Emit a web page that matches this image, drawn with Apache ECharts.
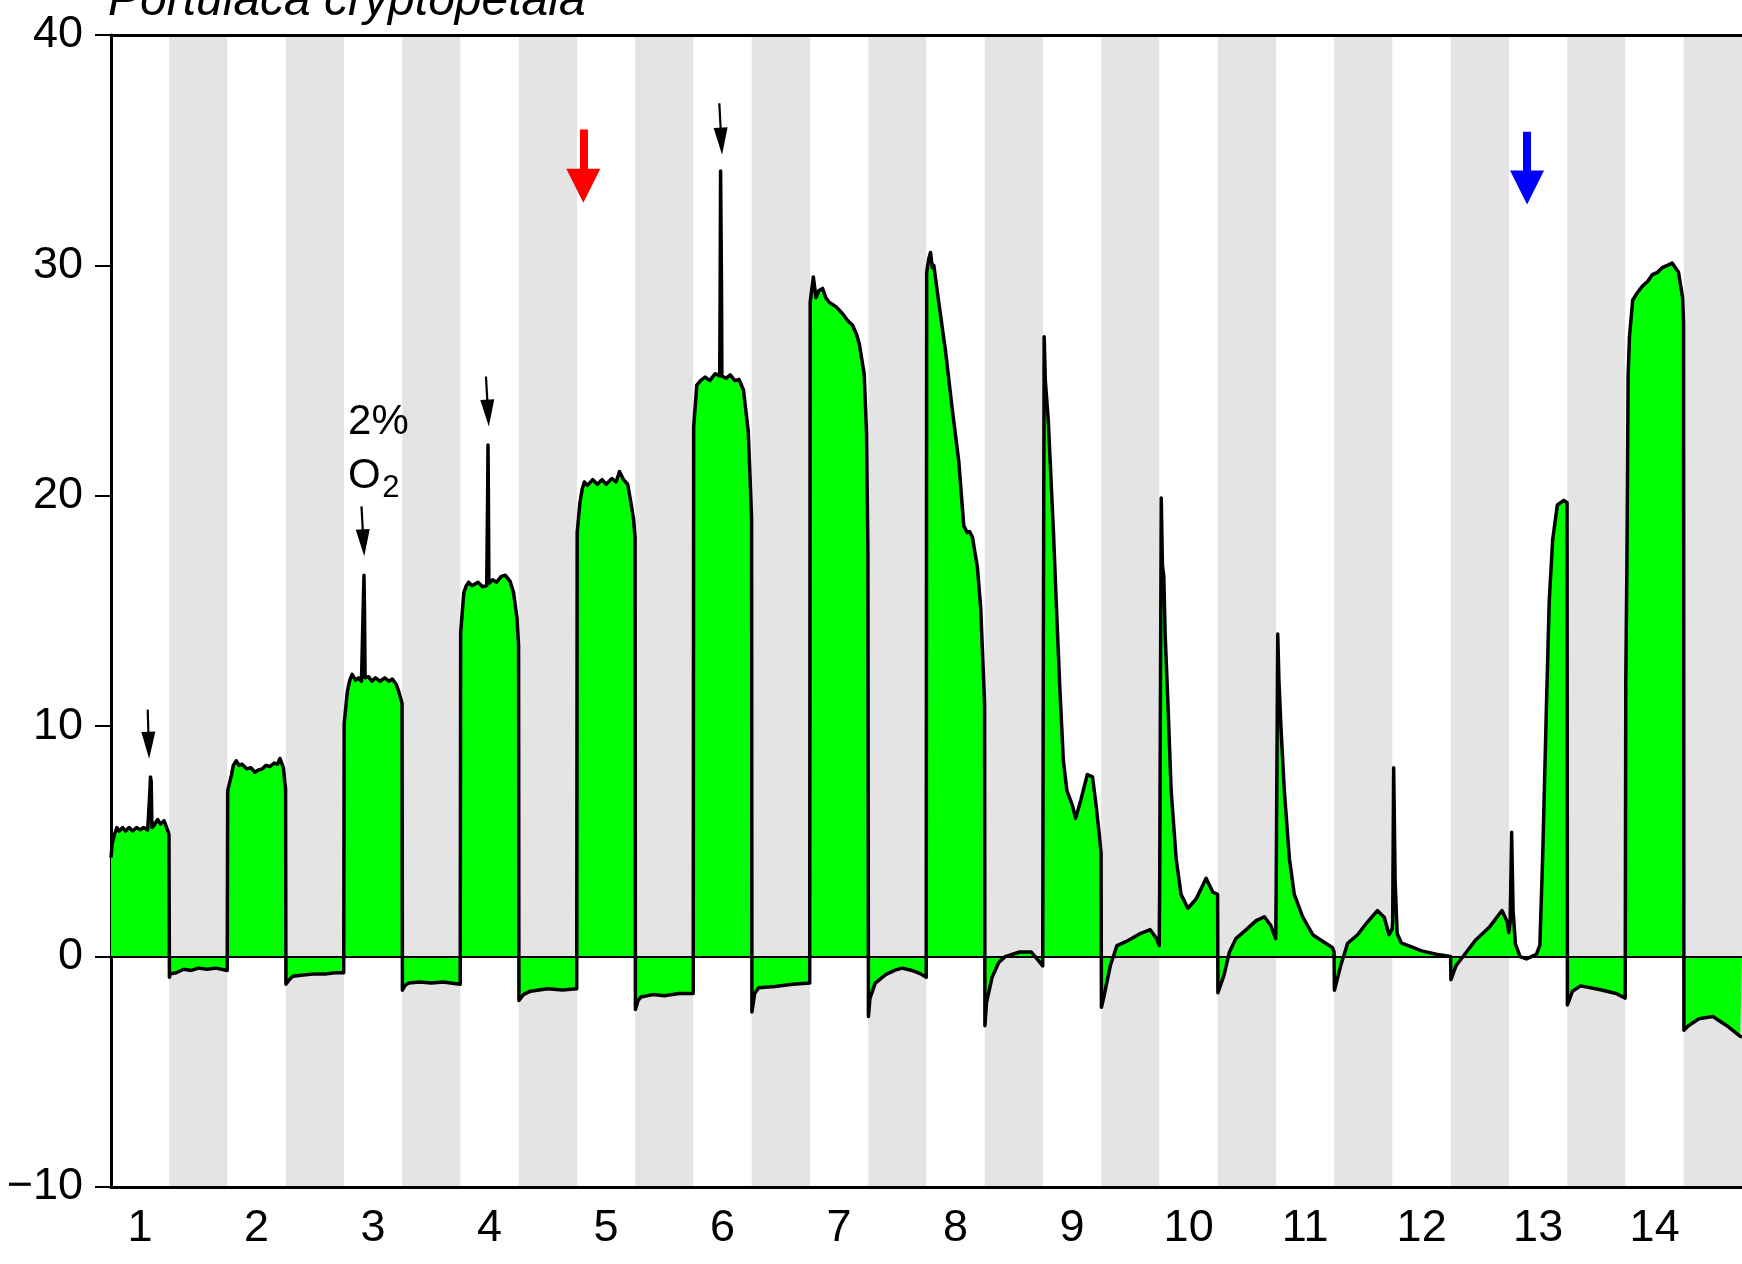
<!DOCTYPE html>
<html>
<head>
<meta charset="utf-8">
<script src="https://cdn.jsdelivr.net/npm/echarts/dist/echarts.min.js"></script>
<style>
html,body{margin:0;padding:0;background:#ffffff;}
#chart{width:1742px;height:1264px;}
</style>
</head>
<body>
<div id="chart"></div>
<script>
// ---------------- data ----------------
const titleText = 'Portulaca cryptopetala';
const cycleLabels = ['1','2','3','4','5','6','7','8','9','10','11','12','13','14'];
const yTicks = { min: -10, max: 40, step: 10 };

// each cycle: [local time, value]; 0..1 = light period, 1..2 = dark period
const cycle01 = [[0,4.3],[0.02,4.9],[0.06,5.3],[0.1,5.6],[0.14,5.45],[0.2,5.6],[0.25,5.45],[0.31,5.6],[0.37,5.45],[0.44,5.6],[0.5,5.5],[0.56,5.6],[0.63,5.5],[0.655,5.5],[0.668,7.2],[0.678,7.8],[0.69,7.6],[0.703,5.6],[0.74,5.7],[0.8,5.95],[0.85,5.75],[0.91,5.9],[0.97,5.5],[0.995,5.3],[1.003,-0.9],[1.02,-0.75],[1.12,-0.7],[1.25,-0.55],[1.38,-0.6],[1.5,-0.5],[1.65,-0.55],[1.8,-0.5],[1.995,-0.6]];
const cycle02 = [[0.003,7.2],[0.07,7.9],[0.1,8.3],[0.15,8.5],[0.2,8.3],[0.25,8.35],[0.33,8.15],[0.4,8.2],[0.47,8.0],[0.53,8.1],[0.6,8.15],[0.66,8.3],[0.73,8.25],[0.8,8.4],[0.86,8.35],[0.9,8.6],[0.96,8.2],[0.985,7.55],[0.997,7.3],[1.003,-1.2],[1.06,-1.0],[1.12,-0.85],[1.3,-0.8],[1.5,-0.75],[1.7,-0.75],[1.85,-0.7],[1.995,-0.7]];
const cycle03 = [[0.003,10.1],[0.057,11.5],[0.1,12.0],[0.14,12.25],[0.2,12.0],[0.25,12.1],[0.3,11.95],[0.325,12.0],[0.333,15.5],[0.343,16.55],[0.352,15.0],[0.362,12.1],[0.42,12.15],[0.48,11.95],[0.54,12.1],[0.62,11.95],[0.7,12.1],[0.77,11.95],[0.83,12.05],[0.9,11.8],[0.94,11.5],[0.997,11.0],[1.003,-1.46],[1.05,-1.25],[1.11,-1.15],[1.3,-1.1],[1.5,-1.15],[1.7,-1.1],[1.995,-1.2]];
const cycle04 = [[0.003,14.06],[0.057,15.8],[0.1,16.1],[0.14,16.25],[0.2,16.1],[0.3,16.25],[0.38,16.05],[0.45,16.1],[0.46,16.1],[0.466,20.0],[0.472,22.2],[0.479,20.0],[0.487,16.2],[0.55,16.35],[0.62,16.25],[0.7,16.5],[0.77,16.55],[0.85,16.3],[0.91,15.8],[0.97,14.7],[0.997,13.5],[1.003,-1.9],[1.08,-1.65],[1.2,-1.5],[1.35,-1.45],[1.5,-1.4],[1.75,-1.45],[1.995,-1.4]];
const cycle05 = [[0.003,18.4],[0.05,19.7],[0.09,20.3],[0.126,20.6],[0.18,20.45],[0.27,20.7],[0.35,20.5],[0.43,20.7],[0.5,20.5],[0.6,20.75],[0.67,20.6],[0.73,21.05],[0.8,20.7],[0.87,20.5],[0.926,19.7],[0.97,19.0],[0.997,18.2],[1.003,-2.3],[1.05,-1.9],[1.1,-1.75],[1.3,-1.65],[1.5,-1.7],[1.75,-1.6],[1.995,-1.6]];
const cycle06 = [[0.003,23.0],[0.057,24.8],[0.12,25.0],[0.2,25.15],[0.28,25.0],[0.37,25.3],[0.45,25.2],[0.458,29.0],[0.465,34.1],[0.474,34.1],[0.481,29.0],[0.487,25.2],[0.56,25.1],[0.63,25.25],[0.71,25.0],[0.78,25.05],[0.857,24.6],[0.94,22.8],[0.98,20.2],[0.997,19.0],[1.003,-2.4],[1.05,-1.6],[1.12,-1.35],[1.4,-1.3],[1.7,-1.2],[1.995,-1.15]];
const cycle07 = [[0.003,28.4],[0.057,29.5],[0.103,28.6],[0.15,28.9],[0.217,29.0],[0.27,28.6],[0.33,28.4],[0.45,28.2],[0.56,27.9],[0.65,27.6],[0.73,27.4],[0.8,27.0],[0.846,26.6],[0.93,25.3],[0.97,22.8],[0.994,17.7],[1.003,-2.6],[1.03,-1.8],[1.12,-1.15],[1.3,-0.78],[1.45,-0.6],[1.58,-0.5],[1.75,-0.6],[1.9,-0.75],[1.995,-0.9]];
const cycle08 = [[0.003,29.7],[0.04,30.3],[0.069,30.56],[0.1,29.9],[0.126,30.0],[0.21,28.4],[0.326,26.3],[0.44,23.8],[0.554,21.5],[0.64,18.7],[0.7,18.4],[0.74,18.45],[0.789,18.2],[0.874,16.9],[0.931,15.1],[0.971,12.6],[0.997,11.0],[1.003,-3.0],[1.03,-2.0],[1.126,-0.9],[1.24,-0.26],[1.35,0.0],[1.6,0.2],[1.8,0.2],[1.995,-0.4]];
const cycle09 = [[0.003,10.0],[0.02,26.9],[0.04,25.0],[0.09,23.3],[0.18,18.4],[0.235,14.9],[0.29,11.6],[0.35,8.5],[0.41,7.2],[0.5,6.6],[0.56,6.0],[0.65,6.8],[0.76,7.9],[0.85,7.8],[0.91,6.6],[0.97,5.2],[0.997,4.5],[1.003,-2.2],[1.04,-1.8],[1.155,-0.4],[1.27,0.48],[1.44,0.67],[1.67,1.0],[1.84,1.17],[1.95,0.78],[1.995,0.48]];
const cycle10 = [[0.003,3.0],[0.03,19.9],[0.05,17.0],[0.074,16.5],[0.097,14.0],[0.143,11.1],[0.2,7.2],[0.286,4.25],[0.37,2.7],[0.486,2.1],[0.63,2.5],[0.8,3.4],[0.914,2.8],[0.997,2.7],[1.003,-1.57],[1.11,-0.78],[1.2,0.19],[1.31,0.78],[1.49,1.17],[1.66,1.56],[1.8,1.73],[1.91,1.35],[1.995,0.78]];
const cycle11 = [[0.003,3.0],[0.03,14.0],[0.05,12.0],[0.086,9.9],[0.143,7.2],[0.23,4.25],[0.314,2.7],[0.457,1.73],[0.63,0.95],[0.8,0.67],[0.97,0.39],[0.997,0.2],[1.003,-1.46],[1.11,-0.4],[1.23,0.58],[1.4,0.95],[1.57,1.5],[1.74,2.0],[1.86,1.7],[1.94,0.95],[1.995,1.2]];
const cycle12 = [[0.003,1.5],[0.02,8.2],[0.045,3.3],[0.08,1.0],[0.15,0.6],[0.25,0.5],[0.5,0.25],[0.75,0.1],[0.997,0.0],[1.003,-1.0],[1.09,-0.4],[1.24,0.1],[1.42,0.7],[1.67,1.3],[1.88,2.0],[1.97,1.5],[1.995,1.04]];
const cycle13 = [[0.02,1.5],[0.045,5.4],[0.07,2.0],[0.11,0.55],[0.19,0.0],[0.3,-0.1],[0.47,0.1],[0.53,0.5],[0.58,4.5],[0.64,10.6],[0.69,15.4],[0.75,18.1],[0.83,19.6],[0.94,19.8],[0.997,19.7],[1.003,-2.1],[1.09,-1.5],[1.23,-1.27],[1.55,-1.43],[1.84,-1.6],[1.995,-1.8]];
const cycle14 = [[0.005,12.0],[0.023,16.7],[0.045,25.2],[0.068,26.9],[0.124,28.5],[0.2,28.8],[0.29,29.1],[0.38,29.3],[0.46,29.6],[0.55,29.7],[0.63,29.9],[0.72,30.0],[0.8,30.1],[0.91,29.7],[0.98,28.6],[0.997,27.5],[1.003,-3.2],[1.08,-3.0],[1.26,-2.7],[1.5,-2.6],[1.74,-3.0],[1.97,-3.46],[2.0,-3.5]];

// annotation arrows: [xStart, yStart, xEnd(head centre), yEnd(head centre)] in data units
const blackArrows = [[0.630,10.72,0.648,9.17],[4.30,19.54,4.335,17.96],[6.437,25.18,6.473,23.59],[10.443,37.04,10.478,35.39]];
const redArrow = [8.108,35.9,8.108,33.46];
const blueArrow = [24.31,35.8,24.31,33.38];
// note text pieces: [x, y, text, fontSize]
const o2Note = [[4.07,23.2,'2%',42],[4.07,20.85,'O',42],[4.655,20.3,'2',31]];

// ---------------- build ----------------
const cycles = [cycle01,cycle02,cycle03,cycle04,cycle05,cycle06,cycle07,cycle08,cycle09,cycle10,cycle11,cycle12,cycle13,cycle14];
const trace = [];
cycles.forEach((c, i) => c.forEach(p => trace.push([2 * i + p[0], p[1]])));
const bandLabels = [];
cycleLabels.forEach(l => { bandLabels.push(l); bandLabels.push(''); });

const FONT = 'Liberation Sans';
function arrowPair(a, color, shaft, head) {
  const ls = { color: color, width: shaft, type: 'solid' };
  return [
    { coord: [a[0], a[1]], symbol: 'none', lineStyle: ls },
    { coord: [a[2], a[3]], symbol: 'triangle', symbolSize: head, lineStyle: ls }
  ];
}
const arrowLines = blackArrows.map(a => arrowPair(a, '#000000', 2.2, [14, 27]));
arrowLines.push(arrowPair(redArrow, '#ff0000', 8, [34, 34]));
arrowLines.push(arrowPair(blueArrow, '#0000ff', 8, [34, 34]));

const noteData = o2Note.map(n => ({
  value: [n[0], n[1]],
  label: { formatter: n[2], fontSize: n[3] }
}));

const chart = echarts.init(document.getElementById('chart'), null, { renderer: 'canvas' });
chart.setOption({
  animation: false,
  backgroundColor: '#ffffff',
  title: {
    text: titleText, left: 108, top: -22, padding: 0,
    textStyle: { fontFamily: FONT, fontSize: 48, fontStyle: 'italic', fontWeight: 'normal', color: '#000', lineHeight: 48 }
  },
  grid: { left: 111, right: 0, top: 35, bottom: 77, containLabel: false, outerBoundsMode: 'none' },
  xAxis: [
    { type: 'value', min: 0, max: 28, position: 'bottom',
      axisLine: { show: true, onZero: false, lineStyle: { color: '#000', width: 3 } },
      axisTick: { show: false }, axisLabel: { show: false }, splitLine: { show: false } },
    { type: 'category', data: bandLabels, position: 'bottom', boundaryGap: true,
      axisLine: { show: false, onZero: false }, axisTick: { show: false },
      axisLabel: { interval: 0, fontSize: 45, fontFamily: FONT, color: '#000', margin: 19 },
      splitLine: { show: false },
      splitArea: { show: true, interval: 0, areaStyle: { color: ['#ffffff', '#e4e4e4'] } } },
    { type: 'value', min: 0, max: 28, position: 'top',
      axisLine: { show: true, onZero: false, lineStyle: { color: '#000', width: 3 } },
      axisTick: { show: false }, axisLabel: { show: false }, splitLine: { show: false } }
  ],
  yAxis: {
    type: 'value', min: yTicks.min, max: yTicks.max, interval: yTicks.step,
    axisLine: { show: true, onZero: false, lineStyle: { color: '#000', width: 3 } },
    axisTick: { show: true, length: 16, lineStyle: { color: '#000', width: 2 } },
    axisLabel: { fontSize: 45, fontFamily: FONT, color: '#000', margin: 28,
      formatter: v => String(v).replace('-', '\u2212') },
    splitLine: { show: false }
  },
  series: [
    { type: 'line', xAxisIndex: 0, data: trace, showSymbol: false, symbol: 'none',
      lineStyle: { color: '#000', width: 3.5, join: 'round' },
      areaStyle: { color: '#00ff00', opacity: 1, origin: 0 },
      z: 3,
      markLine: { silent: true, symbol: ['none', 'none'], label: { show: false },
        lineStyle: { color: '#000', width: 2, type: 'solid' }, data: [{ yAxis: 0 }] } },
    { type: 'line', xAxisIndex: 0, data: [], z: 5,
      markLine: { silent: true, symbol: ['none', 'triangle'], label: { show: false },
        data: arrowLines } },
    { type: 'scatter', xAxisIndex: 0, data: noteData, symbolSize: 0, silent: true, z: 6,
      itemStyle: { color: '#000', opacity: 0 },
      label: { show: true, position: 'right', distance: 0, color: '#000', opacity: 1,
        fontFamily: FONT, textBorderWidth: 0 } }
  ]
});
</script>
</body>
</html>
